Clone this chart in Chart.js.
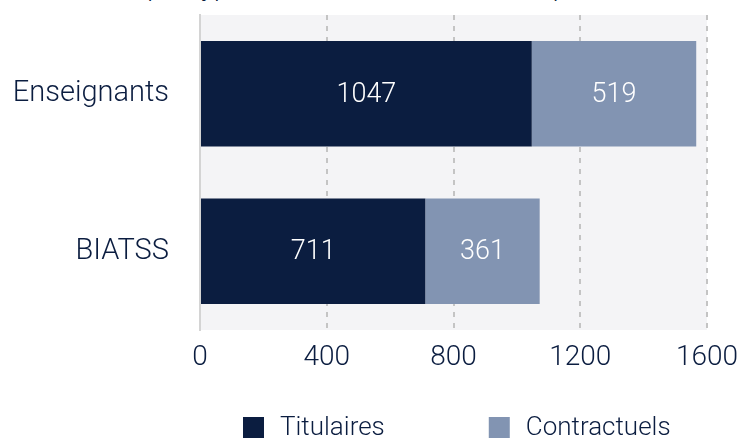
<!DOCTYPE html>
<html>
<head>
<meta charset="utf-8">
<script src="https://cdn.jsdelivr.net/npm/chart.js@4"></script>
<style>
  html, body { margin: 0; padding: 0; background: #fff; overflow: hidden; }
  #wrap { position: relative; width: 740px; height: 439px; overflow: hidden; }
  #titre {
    position: absolute; top: -30px; left: -14px; width: 740px; text-align: center;
    font: 300 27px Roboto, sans-serif; color: #0b1d40; white-space: nowrap;
  }
  canvas { position: absolute; top: 0; left: 0; }
</style>
</head>
<body>
<div id="wrap">
  <div id="titre">Effectifs par type de contrat et de statut du personnel</div>
  <canvas id="graphique" width="740" height="439"></canvas>
</div>
<script>
// données
const categories = ["Enseignants", "BIATSS"];
const titulaires = [1047, 711];
const contractuels = [519, 361];
const ticksX = [0, 400, 800, 1200, 1600];

const police = "Roboto, sans-serif";
const bleuFonce = "#0b1d40";
const bleuClair = "#8294b2";

// fond gris de la zone de tracé
const fondZone = {
  id: "fondZone",
  beforeDraw(chart) {
    const { ctx, chartArea: a } = chart;
    ctx.save();
    ctx.fillStyle = "#f4f4f6";
    ctx.fillRect(a.left, a.top, a.right - a.left, a.bottom - a.top);
    ctx.restore();
  }
};

// valeurs au centre des barres
const etiquettes = {
  id: "etiquettes",
  afterDatasetsDraw(chart) {
    const ctx = chart.ctx;
    ctx.save();
    ctx.fillStyle = "#fff";
    ctx.font = "300 27px " + police;
    ctx.textAlign = "center";
    ctx.textBaseline = "middle";
    chart.data.datasets.forEach((ds, i) => {
      chart.getDatasetMeta(i).data.forEach((bar, j) => {
        const p = bar.getProps(["x", "y", "base"], true);
        ctx.fillText(ds.data[j], (p.x + p.base) / 2, p.y + 1);
      });
    });
    ctx.restore();
  }
};

// légende en bas, avec un grand écart entre les séries
const legendeBas = {
  id: "legendeBas",
  afterDraw(chart) {
    const ctx = chart.ctx;
    ctx.save();
    ctx.font = "300 26px " + police;
    ctx.textBaseline = "middle";
    let x = 243;
    const y = 427;
    chart.data.datasets.forEach(ds => {
      ctx.fillStyle = ds.backgroundColor;
      ctx.fillRect(x, y - 10, 21, 21);
      ctx.fillStyle = bleuFonce;
      ctx.fillText(ds.label, x + 37, y + 1);
      x += 37 + ctx.measureText(ds.label).width + 104;
    });
    ctx.restore();
  }
};

new Chart(document.getElementById("graphique"), {
  type: "bar",
  data: {
    labels: categories,
    datasets: [
      { label: "Titulaires", data: titulaires, backgroundColor: bleuFonce },
      { label: "Contractuels", data: contractuels, backgroundColor: bleuClair }
    ]
  },
  options: {
    indexAxis: "y",
    responsive: false,
    animation: false,
    layout: { padding: { top: 15, right: 33, left: 0, bottom: 0 } },
    barPercentage: 0.67,
    categoryPercentage: 1,
    plugins: {
      legend: { display: false },
      tooltip: { enabled: false }
    },
    scales: {
      x: {
        stacked: true,
        min: 0,
        max: 1600,
        afterBuildTicks: (s) => { s.ticks = ticksX.map(v => ({ value: v })); },
        ticks: {
          font: { family: police, size: 28, weight: 300 },
          color: bleuFonce,
          padding: 11,
          callback: (v) => String(v)
        },
        grid: { color: "#c4c4c4", lineWidth: 2, drawTicks: false },
        border: { display: false, dash: [5, 6] },
        afterFit: (s) => { s.height = 109; s.paddingLeft = 0; s.paddingRight = 0; }
      },
      y: {
        stacked: true,
        ticks: { font: { family: police, size: 29, weight: 300 }, color: bleuFonce, padding: 31 },
        grid: { display: false, drawTicks: false },
        border: { display: true, color: "#d4d4d4", width: 2 },
        afterFit: (s) => { s.width = 200; s.paddingTop = 0; s.paddingBottom = 0; }
      }
    }
  },
  plugins: [fondZone, etiquettes, legendeBas]
});
</script>
</body>
</html>
